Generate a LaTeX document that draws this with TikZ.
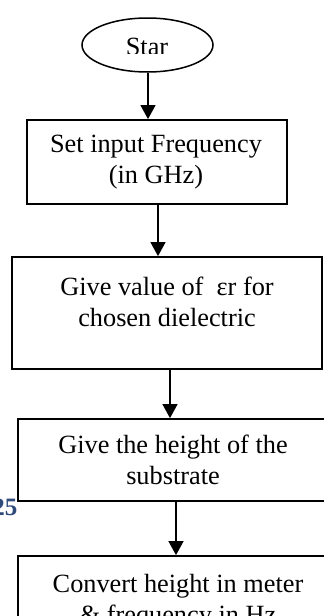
\documentclass[tikz,border=0pt]{standalone}
\usepackage{fontspec}
\setmainfont{Liberation Serif}
\usetikzlibrary{shapes.geometric,arrows.meta}
\definecolor{numblue}{RGB}{47,75,124}
\newcommand\twolines[2]{\begin{tabular}[t]{@{}c@{}}#1\\#2\end{tabular}}
\tikzset{
  box/.style={draw, line width=1.8pt, rectangle, inner sep=0pt},
  txt/.style={inner sep=0pt, anchor=base, font=\fontsize{26.3}{31.8}\selectfont},
  flow/.style={line width=1.3pt, -{Triangle[length=14pt,width=15pt]}},
}
\begin{document}
\begin{tikzpicture}[x=1pt,y=-1pt]
\useasboundingbox (0,0) rectangle (324,616);
% start ellipse
\node[draw, ellipse, line width=1.5pt, minimum width=131pt, minimum height=54pt, inner sep=0pt] (start) at (147.5,45) {};
\begin{scope}
\clip (0,0) rectangle (324,53.3);
\node[txt] (starttxt) at (147,55) {Star};
\end{scope}
% boxes
\node[box, minimum width=260pt, minimum height=84pt] (b1) at (157,162) {};
\node[txt] (t1) at (156,152) {\twolines{Set input Frequency}{(in GHz)}};
\node[box, minimum width=310pt, minimum height=112pt] (b2) at (167,313) {};
\node[txt] (t2) at (167,295) {\twolines{Give value of \ εr for}{chosen dielectric}};
\node[box, minimum width=310pt, minimum height=82pt] (b3) at (173,460) {};
\node[txt] (t3) at (173,453) {\twolines{Give the height of the}{substrate}};
\node[box, minimum width=320pt, minimum height=120pt] (b4) at (178,616) {};
\node[txt] (t4) at (178,592) {\twolines{Convert height in meter}{\& frequency in Hz}};
% stray page number fragment
\node[inner sep=0pt, anchor=base east, text=numblue, font=\fontsize{25}{30}\selectfont\bfseries] (num) at (17.5,515) {25};
% arrows
\draw[flow] ([xshift=0.5pt]start.south) -- ([xshift=0.5pt]start.south |- b1.north);
\draw[flow] ([xshift=1pt]b1.south) -- ([xshift=1pt]b1.south |- b2.north);
\draw[flow] ([xshift=3pt]b2.south) -- ([xshift=3pt]b2.south |- b3.north);
\draw[flow] ([xshift=3pt]b3.south) -- ([xshift=3pt]b3.south |- b4.north);
\end{tikzpicture}
\end{document}
